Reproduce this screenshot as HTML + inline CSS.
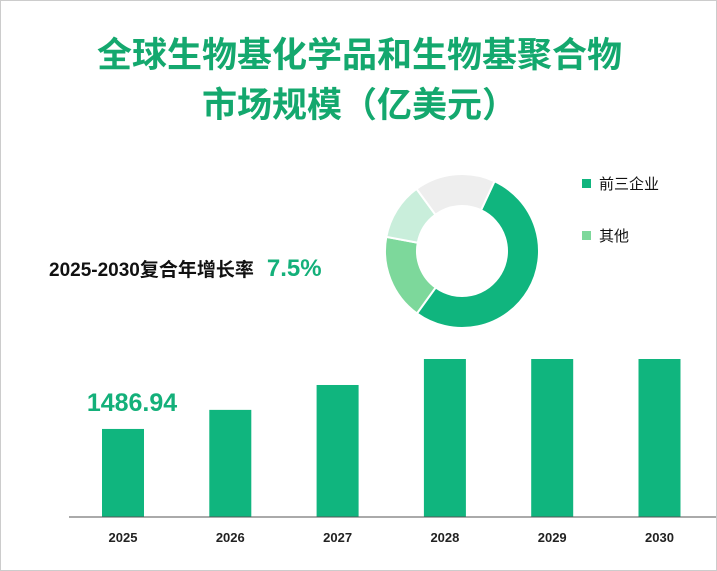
<!DOCTYPE html>
<html><head><meta charset="utf-8"><style>
body{margin:0;background:#fff;}
#c{position:relative;width:717px;height:571px;overflow:hidden;border:1px solid #ccc;box-sizing:border-box;font-family:"Liberation Sans","Noto Sans CJK SC",sans-serif;}
.title{position:absolute;left:0;width:717px;text-align:center;color:#14a86e;font-weight:bold;font-size:35px;line-height:50px;}
</style></head><body>
<div id="c">
<div class="title" style="top:30px">全球生物基化学品和生物基聚合物<br>市场规模（亿美元）</div>
<div style="position:absolute;left:48px;top:254px;font-size:19px;font-weight:bold;color:#111">2025-2030复合年增长率<span style="color:#14b07a;font-size:24px;margin-left:13px">7.5%</span></div>
<svg id="s" width="717" height="571" style="position:absolute;left:0;top:0"></svg>
</div>
<script>
const years=["2025","2026","2027","2028","2029","2030"];
const values=[1486.94,1598.46,1744,1920,2064,2219];
const shareLabels=["前三企业","其他","其他2","其他3"];
const shares=[53,18,12,17];
const NS="http://www.w3.org/2000/svg";
const s=document.getElementById('s');
function mk(t,a){const e=document.createElementNS(NS,t);for(const k in a)e.setAttribute(k,a[k]);s.appendChild(e);return e;}
const base=516,vmin=972,kScale=0.171,plotTop=358;
function yPos(v){return Math.max(plotTop,base-kScale*(v-vmin));}
function xPos(i){return 101+i*107.3;}
years.forEach((yr,i)=>{
 const b=mk('rect',{x:xPos(i),y:yPos(values[i]),width:42,height:base-yPos(values[i]),fill:'#10b57e'});
 
 
 const t=mk('text',{x:xPos(i)+21,y:541,'text-anchor':'middle','font-size':13,'font-weight':'bold',fill:'#222'});
 t.textContent=yr;
 
 
});
const vl=mk('text',{x:xPos(0)+30,y:410,'text-anchor':'middle','font-size':25,'font-weight':'bold',fill:'#14b07a'});
vl.textContent=values[0].toFixed(2);


const ax=mk('line',{x1:68,y1:base,x2:717,y2:base,stroke:'#555','stroke-width':1});


const colors=['#10b57e','#7dd89b','#c9eedb','#eeeeee'];
const cx=461,cy=250,R=77,r=45;
let a0=25;const tot=shares.reduce((a,b)=>a+b,0);
function pt(a,rad){const t=(a-90)*Math.PI/180;return [cx+rad*Math.cos(t),cy+rad*Math.sin(t)];}
shares.forEach((v,i)=>{
 const a1=a0+v/tot*360,lg=(a1-a0)>180?1:0;
 const p1=pt(a0,R),p2=pt(a1,R),p3=pt(a1,r),p4=pt(a0,r);
 const p=mk('path',{d:`M${p1}A${R},${R} 0 ${lg} 1 ${p2}L${p3}A${r},${r} 0 ${lg} 0 ${p4}Z`,fill:colors[i],stroke:'#fff','stroke-width':2});
 
 
 a0=a1;
});
[[0,183],[1,235]].forEach(([i,yy])=>{
 const q=mk('rect',{x:581,y:yy-5,width:9,height:9,fill:colors[i]});
 
 
 const t=mk('text',{x:598,y:yy+5,'font-size':15,fill:'#111'});
 t.textContent=shareLabels[i];
 
 
});
</script>
</body></html>
